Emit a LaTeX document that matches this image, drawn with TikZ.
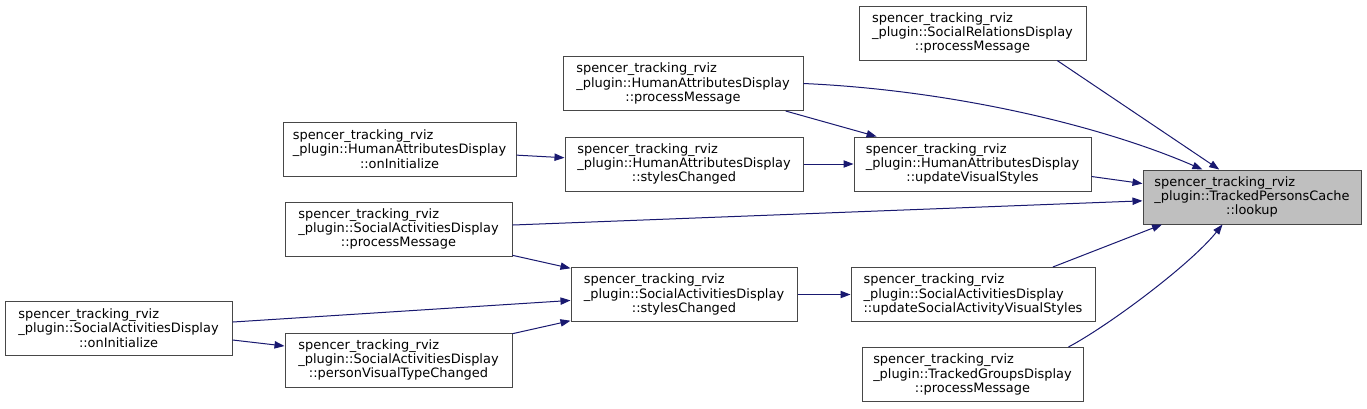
\documentclass[tikz,border=0pt]{standalone}
\usepackage{fontspec}
\setmainfont{DejaVu Sans}
\usetikzlibrary{arrows.meta}
\definecolor{edgeblue}{HTML}{191970}
\definecolor{rootfill}{HTML}{BFBFBF}
\newcommand\dxl[2]{\rlap{spencer\_tracking\_rviz}\phantom{\_plugin::#1}\\\_plugin::#1\\#2}
\newcommand\dxlw[3]{\rlap{spencer\_tracking\_rviz}\phantom{#3}\\\rlap{\_plugin::#1}\phantom{#3}\\#2}
\begin{document}
\begin{tikzpicture}[x=0.75pt,y=-0.75pt,
  box/.style={draw=black!72, line width=0.75pt, fill=white, inner sep=0pt,
    minimum height=40.5pt, align=center, font=\fontsize{9.7}{10.8}\selectfont},
  wd/.style={minimum width=#1*0.75pt},
  e/.style={draw=edgeblue, line width=0.75pt, -{Triangle[length=7.5pt,width=5.5pt]}}]
\fill[white] (0,0) rectangle (1367,408);
\useasboundingbox (0,0) rectangle (1367,408);

\node[box,wd=227] (n1) at (972.5,33) {\dxl{SocialRelationsDisplay}{::processMessage}};
\node[box,wd=240] (n2) at (683,83.5) {\dxl{HumanAttributesDisplay}{::processMessage}};
\node[box,wd=233] (n3) at (399.5,149) {\dxl{HumanAttributesDisplay}{::onInitialize}};
\node[box,wd=238] (n4) at (684,164) {\dxl{HumanAttributesDisplay}{::stylesChanged}};
\node[box,wd=237] (n5) at (972.5,164) {\dxl{HumanAttributesDisplay}{::updateVisualStyles}};
\node[box,wd=218,fill=rootfill] (n6) at (1252,197) {\dxl{TrackedPersonsCache}{::lookup}};
\node[box,wd=227] (n7) at (398.5,229) {\dxl{SocialActivitiesDisplay}{::processMessage}};
\node[box,wd=226] (n8) at (684,294.5) {\dxl{SocialActivitiesDisplay}{::stylesChanged}};
\node[box,wd=244] (n9) at (973,294.5) {\dxlw{SocialActivitiesDisplay}{::updateSocialActivityVisualStyles}{::updateSocialActivityVisualStyles}};
\node[box,wd=227] (n10) at (118.5,328) {\dxl{SocialActivitiesDisplay}{::onInitialize}};
\node[box,wd=227] (n11) at (398.5,360) {\dxl{SocialActivitiesDisplay}{::personVisualTypeChanged}};
\node[box,wd=221] (n12) at (972.5,374.5) {\dxl{TrackedGroupsDisplay}{::processMessage}};

\draw[e] (n1.-18) -- (n6.140);
\draw[e] (n2.east) .. controls (950,90) and (1100,125) .. (n6.151);
\draw[e] (n2.-15.8) -- (n5.164.7);
\draw[e] (n3.-3.4) -- (n4.177.1);
\draw[e] (n4.east) -- (n5.west);
\draw[e] (n5.-6.7) -- (n6.173.2);
\draw[e] (n7.2) -- (n6.182.5);
\draw[e] (n7.-13) -- (n8.167.3);
\draw[e] (n8.east) -- (n9.west);
\draw[e] (n9.19.2) -- (n6.197.8);
\draw[e] (n10.3.5) -- (n8.183.3);
\draw[e] (n10.-6.5) -- (n11.173.5);
\draw[e] (n11.13) -- (n8.193.3);
\draw[e] (n12.16.1) .. controls (1108,326) and (1190,265) .. (n6.223);
\end{tikzpicture}
\end{document}
